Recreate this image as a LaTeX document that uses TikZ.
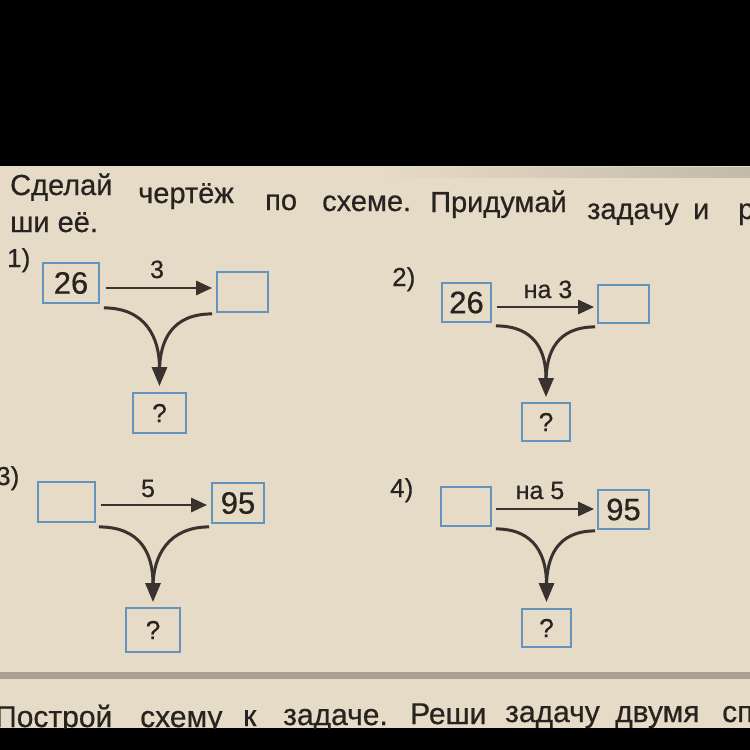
\documentclass[tikz,border=0pt]{standalone}
\usepackage{fontspec}
\setmainfont{Liberation Sans}[UprightFeatures={FakeBold=0.6}]
\usetikzlibrary{arrows.meta}
\definecolor{page}{RGB}{229,219,199}
\definecolor{pageshade}{RGB}{196,186,168}
\definecolor{ink}{RGB}{40,35,32}
\definecolor{boxblue}{RGB}{100,148,190}
\definecolor{arr}{RGB}{58,50,46}
\definecolor{rulegray}{RGB}{168,160,148}
\begin{document}
\begin{tikzpicture}[x=1pt,y=-1pt,
  bx/.style={draw=boxblue, line width=1.8pt, inner sep=0pt, text=ink},
  harrow/.style={draw=arr, line width=2.8pt, -{Triangle[length=16pt,width=14pt]}},
  carrow/.style={draw=arr, line width=3pt, -{Triangle[length=19pt,width=15pt]}},
  cline/.style={draw=arr, line width=3pt},
  txt/.style={inner sep=0pt, text=ink, anchor=base west, font=\fontsize{29}{30}\selectfont},
  btxt/.style={inner sep=0pt, text=ink, anchor=base west, font=\fontsize{30}{32}\selectfont},
  item/.style={inner sep=0pt, text=ink, anchor=base west, font=\fontsize{26}{28}\selectfont},
  lbl/.style={inner sep=0pt, text=ink, anchor=base, font=\fontsize{25}{27}\selectfont},
  num/.style={font=\fontsize{31}{33}\selectfont},
  qm/.style={font=\fontsize{26}{28}\selectfont}
]
\useasboundingbox (0,0) rectangle (750,750);
\fill[black] (0,0) rectangle (750,750);
\fill[page] (0,166) rectangle (750,728);
\shade[left color=page, right color=pageshade] (380,167) rectangle (750,177);
\draw[rulegray, line width=7pt] (0,675) -- (750,675);

\begin{scope}
\clip (0,166) rectangle (750,728);
% title
\node[txt] (t1) at (10,195) {Сделай};
\node[txt] (t2) at (138,203) {чертёж};
\node[txt] (t3) at (265,210) {по};
\node[txt] (t4) at (322,211) {схеме.};
\node[txt] (t5) at (430,212) {Придумай};
\node[txt] (t6) at (587,219) {задачу};
\node[txt] (t7) at (693,219) {и};
\node[txt] (t8) at (738,219) {р};
\node[txt] (t9) at (10,232) {ши\hspace{8pt}её.};
% bottom text
\node[btxt] (u1) at (-5,727) {Построй};
\node[btxt] (u2) at (140,727) {схему};
\node[btxt] (u3) at (243,726) {к};
\node[btxt] (u4) at (283,725) {задаче.};
\node[btxt] (u5) at (410,724) {Реши};
\node[btxt] (u6) at (505,722) {задачу};
\node[btxt] (u7) at (615,722) {двумя};
\node[btxt] (u8) at (722,722) {сп};
% item numbers
\node[item] (n1) at (7,267) {1)};
\node[item] (n2) at (392,286) {2)};
\node[item] (n3) at (-4,485) {3)};
\node[item] (n4) at (390,497) {4)};
\end{scope}

% ---------- 1 ----------
\node[bx, minimum width=56pt, minimum height=40pt, num] (a1) at (71,283) {26};
\node[bx, minimum width=51pt, minimum height=40pt] (b1) at (242.5,292) {};
\node[bx, minimum width=53pt, minimum height=40pt, qm] (q1) at (159.5,413) {?};
\node[lbl] (l1) at (157,278) {3};
\draw[harrow] ([xshift=6pt,yshift=-5pt]a1.east) -- ([xshift=-4pt,yshift=4pt]b1.west);
\draw[cline] ([xshift=-4pt,yshift=-1pt]b1.south west) .. controls +(-40,0) and +(0,-32) .. ([yshift=20pt]q1.north);
\draw[carrow] ([xshift=4pt,yshift=-4pt]a1.south east) .. controls +(42,0) and +(0,-48) .. ([yshift=6pt]q1.north);

% ---------- 2 ----------
\node[bx, minimum width=49pt, minimum height=39pt, num] (a2) at (466.5,302.5) {26};
\node[bx, minimum width=51pt, minimum height=38pt] (b2) at (623.5,304) {};
\node[bx, minimum width=48pt, minimum height=38pt, qm] (q2) at (546,422) {?};
\node[lbl] (l2) at (548,298) {на 3};
\draw[harrow] ([xshift=5pt,yshift=-4.5pt]a2.east) -- ([xshift=-3pt,yshift=-3pt]b2.west);
\draw[cline] ([xshift=-2pt,yshift=-3pt]b2.south west) .. controls +(-38,0) and +(0,-30) .. ([yshift=20pt]q2.north);
\draw[carrow] ([xshift=4pt,yshift=-3pt]a2.south east) .. controls +(40,0) and +(0,-45) .. ([yshift=5pt]q2.north);

% ---------- 3 ----------
\node[bx, minimum width=57pt, minimum height=40pt] (a3) at (66.5,502) {};
\node[bx, minimum width=52pt, minimum height=40pt, num] (b3) at (238,503) {95};
\node[bx, minimum width=54pt, minimum height=44pt, qm] (q3) at (153,630) {?};
\node[lbl] (l3) at (148,497) {5};
\draw[harrow] ([xshift=5pt,yshift=-3pt]a3.east) -- ([xshift=-4pt,yshift=-2pt]b3.west);
\draw[cline] ([xshift=-2pt,yshift=-3pt]b3.south west) .. controls +(-40,0) and +(0,-32) .. ([yshift=20pt]q3.north);
\draw[carrow] ([xshift=3pt,yshift=-4pt]a3.south east) .. controls +(42,0) and +(0,-48) .. ([yshift=5pt]q3.north);

% ---------- 4 ----------
\node[bx, minimum width=50pt, minimum height=39pt] (a4) at (466,506.5) {};
\node[bx, minimum width=51pt, minimum height=39pt, num] (b4) at (623.5,509.5) {95};
\node[bx, minimum width=49pt, minimum height=38pt, qm] (q4) at (546.5,628) {?};
\node[lbl] (l4) at (540,499) {на 5};
\draw[harrow] ([xshift=4pt,yshift=-2.5pt]a4.east) -- ([xshift=-3pt,yshift=0.5pt]b4.west);
\draw[cline] ([xshift=-2pt,yshift=-1pt]b4.south west) .. controls +(-38,0) and +(0,-30) .. ([yshift=21pt]q4.north);
\draw[carrow] ([xshift=4pt,yshift=-2pt]a4.south east) .. controls +(40,0) and +(0,-45) .. ([yshift=6pt]q4.north);
\end{tikzpicture}
\end{document}
